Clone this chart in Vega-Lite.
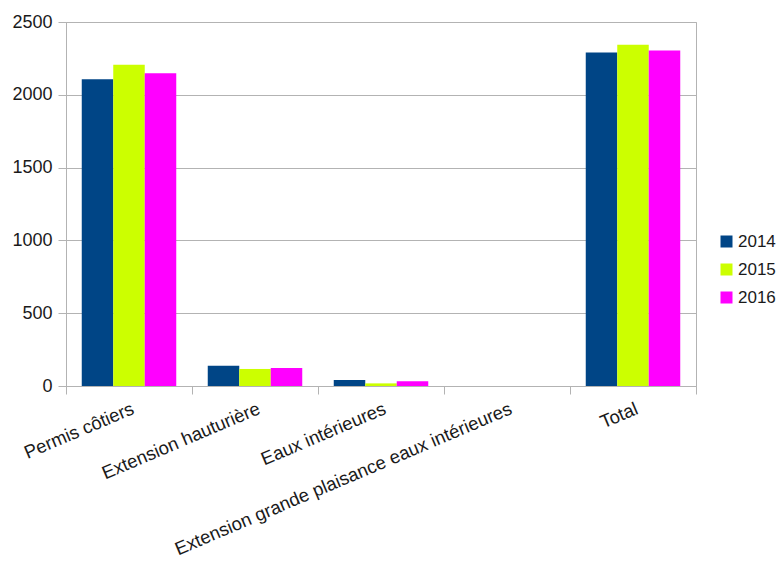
{
  "$schema": "https://vega.github.io/schema/vega-lite/v6.json",
  "width": 630,
  "height": 364,
  "autosize": "none",
  "padding": {"left": 66, "top": 22, "right": 84, "bottom": 183},
  "background": "white",
  "config": {
    "view": {"stroke": "#b3b3b3", "strokeWidth": 1},
    "font": "Liberation Sans"
  },
  "data": {
    "values": [
      {"categorie": "Permis côtiers", "annee": "2014", "valeur": 2107},
      {"categorie": "Permis côtiers", "annee": "2015", "valeur": 2206},
      {"categorie": "Permis côtiers", "annee": "2016", "valeur": 2148},
      {"categorie": "Extension hauturière", "annee": "2014", "valeur": 139},
      {"categorie": "Extension hauturière", "annee": "2015", "valeur": 117},
      {"categorie": "Extension hauturière", "annee": "2016", "valeur": 123},
      {"categorie": "Eaux intérieures", "annee": "2014", "valeur": 41},
      {"categorie": "Eaux intérieures", "annee": "2015", "valeur": 18},
      {"categorie": "Eaux intérieures", "annee": "2016", "valeur": 32},
      {"categorie": "Extension grande plaisance eaux intérieures", "annee": "2014", "valeur": 0},
      {"categorie": "Extension grande plaisance eaux intérieures", "annee": "2015", "valeur": 0},
      {"categorie": "Extension grande plaisance eaux intérieures", "annee": "2016", "valeur": 0},
      {"categorie": "Total", "annee": "2014", "valeur": 2291},
      {"categorie": "Total", "annee": "2015", "valeur": 2343},
      {"categorie": "Total", "annee": "2016", "valeur": 2304}
    ]
  },
  "mark": {"type": "bar"},
  "encoding": {
    "x": {
      "field": "categorie",
      "type": "nominal",
      "sort": null,
      "scale": {"paddingInner": 0, "paddingOuter": 0},
      "axis": {
        "title": null,
        "labelAngle": -23,
        "labelFontSize": 18.5,
        "labelColor": "#1a1a1a",
        "labelAlign": "right",
        "labelBaseline": "top",
        "labelPadding": 5,
        "labelLimit": 0,
        "labelOverlap": false,
        "tickBand": "extent",
        "tickColor": "#b3b3b3",
        "tickSize": 8,
        "domainColor": "#b3b3b3",
        "grid": false
      }
    },
    "xOffset": {
      "field": "annee",
      "type": "nominal",
      "scale": {"paddingInner": 0, "paddingOuter": 0.5}
    },
    "y": {
      "field": "valeur",
      "type": "quantitative",
      "scale": {"domain": [0, 2500], "nice": false},
      "axis": {
        "title": null,
        "values": [0, 500, 1000, 1500, 2000, 2500],
        "format": "d",
        "labelFontSize": 18,
        "labelColor": "#1a1a1a",
        "labelPadding": 6,
        "tickColor": "#b3b3b3",
        "tickSize": 8,
        "domainColor": "#b3b3b3",
        "gridColor": "#b3b3b3"
      }
    },
    "color": {
      "field": "annee",
      "type": "nominal",
      "scale": {"domain": ["2014", "2015", "2016"], "range": ["#004586", "#ccff00", "#ff00ff"]},
      "legend": {
        "title": null,
        "orient": "none",
        "legendX": 652,
        "legendY": 211,
        "symbolType": "square",
        "symbolSize": 144,
        "symbolStrokeWidth": 0,
        "symbolOpacity": 1,
        "labelFontSize": 17,
        "labelColor": "#1a1a1a",
        "labelOffset": 3,
        "rowPadding": 10
      }
    }
  }
}
